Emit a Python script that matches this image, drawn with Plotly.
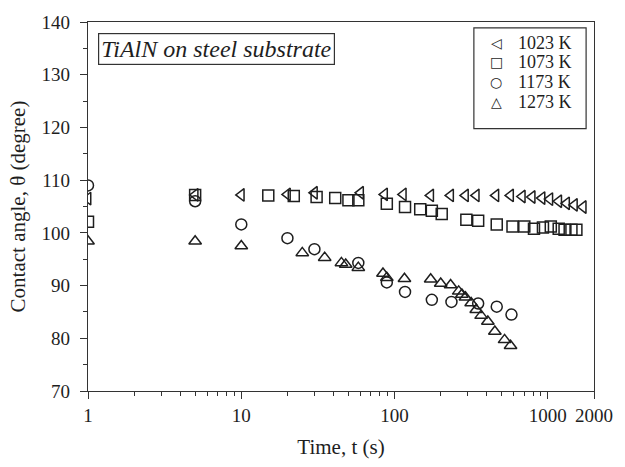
import numpy as np
import plotly.graph_objects as go

# Contact angle of TiAlN on steel vs. time at four temperatures
t_1023 = [1, 5, 10, 20, 30, 60, 86, 114, 172, 232, 290, 341, 458, 571, 681, 790, 916, 1030, 1177, 1324, 1490, 1701]
theta_1023 = [106.5, 107.2, 107.2, 107.3, 107.6, 107.6, 107.3, 107.3, 107.1, 107.1, 107.1, 107.1, 107.1, 107.1,
              106.9, 106.8, 106.6, 106.4, 106.0, 105.6, 105.3, 104.9]

t_1073 = [1, 5, 15, 22, 31, 41, 50, 58, 89, 117, 147, 175, 203, 294, 351, 464, 588, 702, 812, 929, 1045, 1177,
          1285, 1425, 1535]
theta_1073 = [102.1, 107.2, 107.1, 107.0, 106.8, 106.6, 106.2, 106.2, 105.5, 104.9, 104.5, 104.2, 103.6, 102.5,
              102.3, 101.6, 101.2, 101.2, 100.8, 101.0, 101.2, 100.8, 100.6, 100.6, 100.6]

t_1173 = [1, 5, 10, 20, 30, 58, 89, 117, 175, 235, 351, 464, 579]
theta_1173 = [109.0, 106.0, 101.6, 99.0, 96.9, 94.3, 90.6, 88.8, 87.3, 86.9, 86.6, 86.0, 84.5]

t_1273 = [1, 5, 10, 25, 35, 45, 48, 58, 84, 89, 116, 172, 200, 232, 262, 275, 290, 316, 341, 367, 406, 451,
          522, 571]
theta_1273 = [98.4, 98.4, 97.5, 96.2, 95.3, 94.3, 94.0, 93.4, 92.3, 91.5, 91.3, 91.2, 90.4, 90.1, 88.9, 88.3,
              87.8, 86.7, 85.4, 84.3, 83.2, 81.3, 79.7, 78.6]

series_names = ["1023 K", "1073 K", "1173 K", "1273 K"]
series_t = [t_1023, t_1073, t_1173, t_1273]
series_theta = [theta_1023, theta_1073, theta_1173, theta_1273]
symbols = ["triangle-left-open", "square-open", "circle-open", "triangle-up-open"]
key_glyphs = ["\u25C1", "\u25A1", "\u25CB", "\u25B3"]

x_ticks = [1, 10, 100, 1000, 2000]
x_tick_text = ["1", "10", "100", "1000", "2000"]
x_minor = [m * 10 ** d for d in range(0, 3) for m in range(2, 10)]

SERIF = "Liberation Serif, Times New Roman, serif"
INK = "#1e1e1e"

fig = go.Figure()
for name, t, th, sym in zip(series_names, series_t, series_theta, symbols):
    fig.add_trace(go.Scatter(
        x=t, y=th, mode="markers", name=name, showlegend=False,
        marker=dict(symbol=sym, size=11, color=INK, line=dict(width=1.5, color=INK)),
    ))

axis_common = dict(
    showline=True, mirror=True, linecolor="#333", linewidth=1.3,
    showgrid=False, zeroline=False, ticks="outside", ticklen=7, tickwidth=1.2, tickcolor="#333",
    tickfont=dict(family=SERIF, size=19, color=INK),
)

fig.update_xaxes(
    type="log", range=[0, np.log10(2000)],
    tickmode="array", tickvals=x_ticks, ticktext=x_tick_text,
    minor=dict(tickmode="array", tickvals=x_minor, ticks="outside", ticklen=4, tickwidth=1.1, tickcolor="#333"),
    title=dict(text="Time, t (s)", font=dict(family=SERIF, size=21, color=INK), standoff=14),
    **axis_common,
)
fig.update_yaxes(
    range=[70, 140], tickmode="linear", tick0=70, dtick=10,
    minor=dict(dtick=5, ticks="outside", ticklen=4, tickwidth=1.1, tickcolor="#333"),
    ticklabelstandoff=6,
    title=dict(text="Contact angle, \u03B8 (degree)", font=dict(family=SERIF, size=21, color=INK), standoff=10),
    **axis_common,
)

# Boxed sample label
fig.add_annotation(
    xref="paper", yref="paper", x=0.0195, y=0.971, xanchor="left", yanchor="top",
    text="<i>TiAlN on steel substrate</i>", showarrow=False,
    font=dict(family=SERIF, size=24, color=INK),
    bordercolor="#333", borderwidth=1.2, borderpad=2, bgcolor="white",
)

# Temperature key
fig.add_shape(type="rect", xref="paper", yref="paper", x0=0.7626, x1=0.9844, y0=0.711, y1=0.984,
              line=dict(color="#333", width=1.2), fillcolor="white")
key_rows = [0.9442, 0.8904, 0.8365, 0.7826]
for glyph, name, yr in zip(key_glyphs, series_names, key_rows):
    fig.add_annotation(xref="paper", yref="paper", x=0.807, y=yr, xanchor="center", yanchor="middle",
                       text=glyph, showarrow=False, valign="middle",
                       font=dict(family="DejaVu Sans", size=14, color=INK))
    fig.add_annotation(xref="paper", yref="paper", x=0.846, y=yr, xanchor="left", yanchor="middle",
                       text=name, showarrow=False, valign="middle",
                       font=dict(family=SERIF, size=18, color=INK))

fig.update_layout(
    width=625, height=467,
    margin=dict(l=88, r=23, t=16, b=74),
    plot_bgcolor="white", paper_bgcolor="white",
)

fig.write_html("out.html")
